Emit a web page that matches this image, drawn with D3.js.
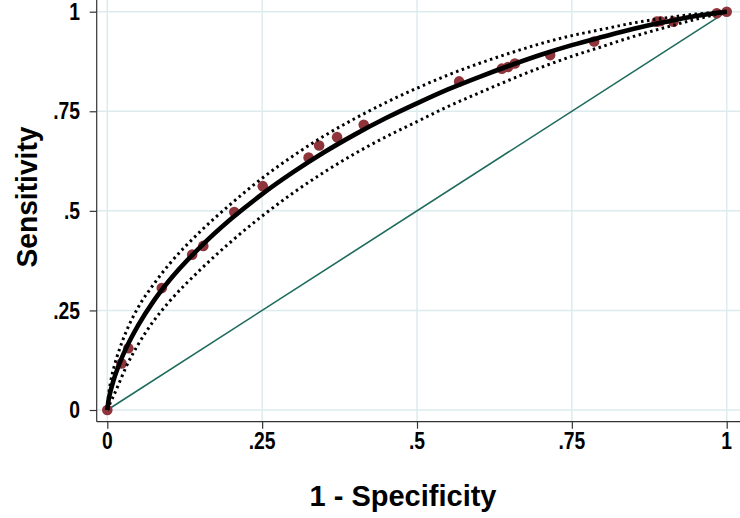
<!DOCTYPE html>
<html>
<head>
<meta charset="utf-8">
<script src="https://cdn.jsdelivr.net/npm/d3@7"></script>
<style>
  html, body { margin: 0; padding: 0; background: #fff; }
  svg { display: block; }
  text { font-family: 'Liberation Sans', Arial, sans-serif; font-weight: bold; fill: #000; }
</style>
</head>
<body>
<svg id="chart" width="740" height="518"></svg>
<script>
// ---- data ----
const tickValues = [0, 0.25, 0.5, 0.75, 1];
const tickLabels = ["0", ".25", ".5", ".75", "1"];
const xTitle = "1 - Specificity";
const yTitle = "Sensitivity";

// empirical ROC points (1-specificity, sensitivity)
const ptX = [0, 0.023, 0.034, 0.088, 0.137, 0.155, 0.205, 0.251, 0.325, 0.342, 0.371, 0.414, 0.568, 0.637, 0.647, 0.658, 0.715, 0.786, 0.887, 0.893, 0.914, 0.984, 1];
const ptY = [0, 0.117, 0.155, 0.306, 0.390, 0.412, 0.497, 0.562, 0.634, 0.664, 0.685, 0.716, 0.825, 0.857, 0.861, 0.870, 0.891, 0.925, 0.975, 0.976, 0.975, 0.996, 1];

// x positions at which the fitted curve and its bands were read
const curveX = [0, 0.002, 0.005, 0.01, 0.02, 0.03, 0.05, 0.075, 0.1, 0.15, 0.2, 0.25, 0.3, 0.35, 0.4, 0.45, 0.5, 0.55, 0.6, 0.65, 0.7, 0.75, 0.8, 0.85, 0.9, 0.95, 0.98, 1];
// fitted ROC curve
const fitY   = [0, 0.024, 0.046, 0.074, 0.118, 0.154, 0.213, 0.274, 0.325, 0.409, 0.480, 0.542, 0.597, 0.647, 0.692, 0.733, 0.770, 0.805, 0.836, 0.865, 0.892, 0.916, 0.937, 0.957, 0.974, 0.989, 0.996, 1];
// upper confidence band
const upperY = [0, 0.037, 0.068, 0.103, 0.154, 0.195, 0.258, 0.316, 0.366, 0.448, 0.518, 0.582, 0.638, 0.688, 0.732, 0.772, 0.808, 0.841, 0.870, 0.896, 0.920, 0.940, 0.956, 0.972, 0.984, 0.994, 0.998, 1];
// lower confidence band
const lowerY = [0, 0.006, 0.019, 0.035, 0.071, 0.107, 0.165, 0.224, 0.272, 0.352, 0.423, 0.487, 0.545, 0.597, 0.644, 0.686, 0.724, 0.762, 0.796, 0.829, 0.860, 0.888, 0.913, 0.938, 0.960, 0.981, 0.992, 1];

// reference diagonal
const diagX = [0, 1];
const diagY = [0, 1];

// ---- drawing ----
const svg = d3.select("#chart");
const W = 740, H = 518;
const axisLeft = 96.7, axisBottom = 421.7;

const x = d3.scaleLinear().domain([0, 1]).range([107.3, 726.7]);
const y = d3.scaleLinear().domain([0, 1]).range([410, 11.7]);

const zip = (a, b) => a.map((v, i) => [v, b[i]]);

// gridlines
const grid = svg.append("g");
grid.selectAll("line.gx").data(tickValues).join("line")
  .attr("x1", d => x(d)).attr("x2", d => x(d))
  .attr("y1", 0).attr("y2", axisBottom)
  .attr("stroke", "#dcebee").attr("stroke-width", 1.5);
grid.selectAll("line.gy").data(tickValues).join("line")
  .attr("x1", axisLeft).attr("x2", W)
  .attr("y1", d => y(d)).attr("y2", d => y(d))
  .attr("stroke", "#dcebee").attr("stroke-width", 1.5);

// axes (tick marks from d3 axes; labels drawn condensed)
const xAxis = d3.axisBottom(x).tickValues(tickValues).tickFormat("").tickSize(7);
const yAxis = d3.axisLeft(y).tickValues(tickValues).tickFormat("").tickSize(7);

const gx = svg.append("g").attr("transform", `translate(0,${axisBottom})`).call(xAxis);
gx.select(".domain").remove();
gx.selectAll(".tick line").attr("stroke", "#333").attr("stroke-width", 1.2);

const gy = svg.append("g").attr("transform", `translate(${axisLeft},0)`).call(yAxis);
gy.select(".domain").remove();
gy.selectAll(".tick line").attr("stroke", "#333").attr("stroke-width", 1.2);

svg.append("line").attr("x1", axisLeft).attr("x2", axisLeft).attr("y1", 0).attr("y2", axisBottom)
  .attr("stroke", "#333").attr("stroke-width", 1.2);
svg.append("line").attr("x1", axisLeft).attr("x2", W).attr("y1", axisBottom).attr("y2", axisBottom)
  .attr("stroke", "#333").attr("stroke-width", 1.2);

// tick labels
const condense = 0.84;
svg.append("g").selectAll("text").data(tickValues).join("text")
  .attr("transform", d => `translate(${x(d)},449) scale(${condense},1)`)
  .attr("text-anchor", "middle").attr("font-size", 23)
  .text((d, i) => tickLabels[i]);
svg.append("g").selectAll("text").data(tickValues).join("text")
  .attr("transform", d => `translate(80,${y(d) + 8.2}) scale(${condense},1)`)
  .attr("text-anchor", "end").attr("font-size", 23)
  .text((d, i) => tickLabels[i]);

// titles
svg.append("text").attr("x", 403).attr("y", 506).attr("text-anchor", "middle")
  .attr("font-size", 29).attr("textLength", 187).attr("lengthAdjust", "spacingAndGlyphs").text(xTitle);
svg.append("text").attr("transform", "translate(37,197) rotate(-90)").attr("text-anchor", "middle")
  .attr("font-size", 29).attr("textLength", 141).attr("lengthAdjust", "spacingAndGlyphs").text(yTitle);

// diagonal
const line = d3.line().x(d => x(d[0])).y(d => y(d[1]));
svg.append("path").datum(zip(diagX, diagY)).attr("d", line)
  .attr("fill", "none").attr("stroke", "#1e6b5c").attr("stroke-width", 1.6);

// points
svg.append("g").selectAll("circle").data(zip(ptX, ptY)).join("circle")
  .attr("cx", d => x(d[0])).attr("cy", d => y(d[1])).attr("r", 5.3)
  .attr("fill", "#8f343b");

// curves
const smooth = d3.line().x(d => x(d[0])).y(d => y(d[1])).curve(d3.curveMonotoneX);
svg.append("path").datum(zip(curveX, upperY)).attr("d", smooth)
  .attr("fill", "none").attr("stroke", "#000").attr("stroke-width", 3)
  .attr("stroke-dasharray", "2.5,3.5");
svg.append("path").datum(zip(curveX, lowerY)).attr("d", smooth)
  .attr("fill", "none").attr("stroke", "#000").attr("stroke-width", 3)
  .attr("stroke-dasharray", "2.5,3.5");
svg.append("path").datum(zip(curveX, fitY)).attr("d", smooth)
  .attr("fill", "none").attr("stroke", "#000").attr("stroke-width", 4.6)
  .attr("stroke-linejoin", "round");
</script>
</body>
</html>
